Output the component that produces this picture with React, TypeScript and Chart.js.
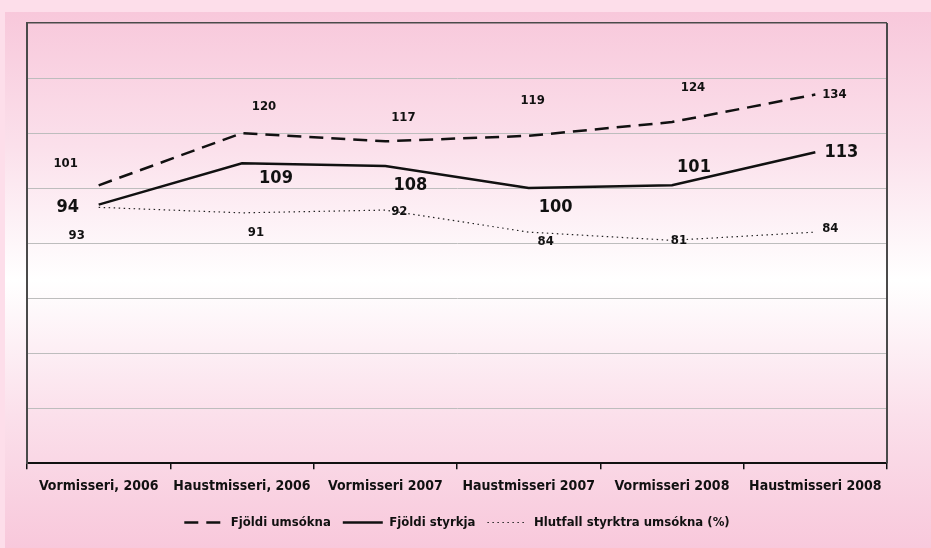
import React, { useEffect, useRef } from "react";
import { Chart, registerables } from "chart.js";

Chart.register(...registerables);

const categories = [
  "Vormisseri, 2006",
  "Haustmisseri, 2006",
  "Vormisseri 2007",
  "Haustmisseri 2007",
  "Vormisseri 2008",
  "Haustmisseri 2008",
];
const seriesNames = ["Fjöldi umsókna", "Fjöldi styrkja", "Hlutfall styrktra umsókna (%)"];
const applications = [101, 120, 117, 119, 124, 134];
const grants = [94, 109, 108, 100, 101, 113];
const ratio = [93, 91, 92, 84, 81, 84];
const yMin = 0;
const yMax = 160;
const yStep = 20;

const FONT = "'DejaVu Sans Condensed', 'Liberation Sans Narrow', sans-serif";

// label placement (style only): offset of each value label from its point
const labelStyles = [
  { dx: [-33, 22, 18, 4, 21, 19], dy: [-22, -26, -24, -35, -34, 0], size: 13 },
  { dx: [-31, 34, 25, 27, 22, 26], dy: [3, 15, 19, 19, -18, 0], size: 18 },
  { dx: [-22, 14, 14, 17, 7, 15], dy: [28, 20, 2, 10, 0, -3], size: 13 },
];

const valueLabels = {
  id: "valueLabels",
  afterDatasetsDraw(chart: any) {
    const ctx = chart.ctx;
    ctx.save();
    chart.data.datasets.forEach((ds: any, di: number) => {
      const meta = chart.getDatasetMeta(di);
      const st = labelStyles[di];
      ctx.font = `bold ${st.size}px ${FONT}`;
      ctx.fillStyle = "#111";
      ctx.textAlign = "center";
      ctx.textBaseline = "middle";
      meta.data.forEach((pt: any, i: number) => {
        ctx.fillText(String(ds.data[i]), pt.x + st.dx[i], pt.y + st.dy[i]);
      });
    });
    ctx.restore();
  },
};

const frame = {
  id: "frame",
  beforeDatasetsDraw(chart: any) {
    const { ctx, chartArea } = chart;
    ctx.save();
    ctx.strokeStyle = "#4a4a4a";
    ctx.lineWidth = 2;
    ctx.beginPath();
    ctx.moveTo(chartArea.right, chartArea.top);
    ctx.lineTo(chartArea.right, chartArea.bottom);
    ctx.stroke();
    ctx.restore();
  },
};

export default function App() {
  const ref = useRef<HTMLCanvasElement>(null);
  useEffect(() => {
    document.body.style.margin = "0";
    const chart = new Chart(ref.current!, {
      type: "line",
      data: {
        labels: categories,
        datasets: [
          {
            label: seriesNames[0],
            data: applications,
            borderColor: "#111",
            borderWidth: 2.5,
            borderDash: [14, 8],
            pointRadius: 0,
            fill: false,
            tension: 0,
          },
          {
            label: seriesNames[1],
            data: grants,
            borderColor: "#111",
            borderWidth: 2.5,
            pointRadius: 0,
            fill: false,
            tension: 0,
          },
          {
            label: seriesNames[2],
            data: ratio,
            borderColor: "#222",
            borderWidth: 1.2,
            borderDash: [1.5, 3.5],
            pointRadius: 0,
            fill: false,
            tension: 0,
          },
        ],
      },
      options: {
        animation: false,
        responsive: false,
        maintainAspectRatio: false,
        layout: { padding: { left: 27, right: 44, top: 23, bottom: 9 } },
        plugins: {
          legend: {
            position: "bottom",
            labels: {
              usePointStyle: true,
              pointStyle: "line",
              pointStyleWidth: 40,
              boxHeight: 13,
              padding: 12,
              color: "#111",
              font: { family: FONT, size: 13, weight: "bold" },
              generateLabels: (chart: any) =>
                chart.data.datasets.map((ds: any, i: number) => ({
                  text: ds.label,
                  strokeStyle: ds.borderColor,
                  fillStyle: ds.borderColor,
                  lineWidth: ds.borderWidth,
                  lineDash: ds.borderDash || [],
                  pointStyle: "line",
                  datasetIndex: i,
                  hidden: false,
                  fontColor: "#111",
                })),
            },
          },
          tooltip: { enabled: false },
        },
        scales: {
          x: {
            offset: true,
            grid: {
              offset: true,
              drawOnChartArea: false,
              drawTicks: true,
              tickLength: 6,
              color: "#111",
              lineWidth: 1.5,
            },
            border: { color: "#111", width: 2 },
            ticks: {
              color: "#111",
              padding: 9,
              maxRotation: 0,
              autoSkip: false,
              font: { family: FONT, size: 14, weight: "bold" },
            },
          },
          y: {
            min: yMin,
            max: yMax,
            ticks: { display: false, stepSize: yStep },
            grid: {
              drawTicks: false,
              color: (c: any) =>
                c.tick && c.tick.value === yMax ? "#4a4a4a" : c.tick && c.tick.value === yMin ? "rgba(0,0,0,0)" : "#bdbdbd",
              lineWidth: (c: any) => (c.tick && c.tick.value === yMax ? 1.5 : 1),
            },
            border: { color: "#4a4a4a", width: 2 },
          },
        },
      },
      plugins: [valueLabels, frame],
    });
    return () => chart.destroy();
  }, []);

  return (
    <div
      style={{
        position: "relative",
        width: 931,
        height: 548,
        background: "#fddeea",
        overflow: "hidden",
      }}
    >
      <div
        style={{
          position: "absolute",
          left: 5,
          top: 12,
          right: 0,
          bottom: 0,
          background:
            "linear-gradient(to bottom, #f8c8db 0%, #fbe0eb 25%, #ffffff 50%, #fbe0eb 75%, #f8c8db 100%)",
        }}
      />
      <canvas ref={ref} width={931} height={548} style={{ position: "absolute", left: 0, top: 0 }} />
    </div>
  );
}
